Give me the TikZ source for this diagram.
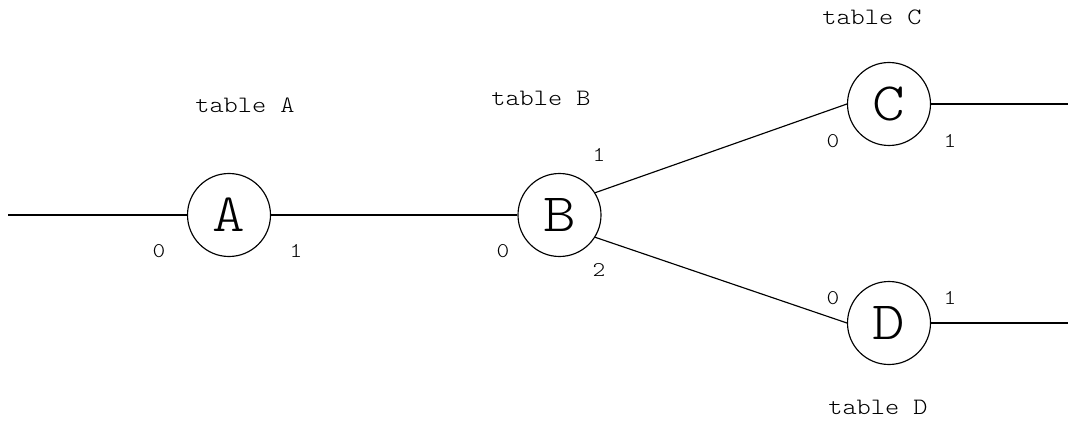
\documentclass[tikz,border=0pt]{standalone}
\usepackage{fontspec}
\newfontfamily\courlike[FakeStretch=1.15]{Latin Modern Mono Light}
\begin{document}
\begin{tikzpicture}[x=1pt,y=1pt,line width=1.15pt,
  tbl/.style={circle,draw,minimum size=83pt,inner sep=0pt,font=\courlike\fontsize{54}{54}\selectfont},
  lbl/.style={font=\courlike\fontsize{23.5}{24}\selectfont,inner sep=0pt},
  port/.style={font=\courlike\fontsize{21}{21}\selectfont,inner sep=0pt}]
\useasboundingbox (0,0) rectangle (1071,421);
\node[tbl] (A) at (229,206) {A};
\node[tbl] (B) at (559.5,206) {B};
\node[tbl] (C) at (889,317) {C};
\node[tbl] (D) at (889,98) {D};
\coordinate (inA) at (8,206);
\coordinate (outC) at (1068,317);
\coordinate (outD) at (1068,98);
\draw (inA) -- (A.west);
\draw (A.east) -- (B.west);
\draw (B.32) -- (C.west);
\draw (B.-32) -- (D.west);
\draw (C.east) -- (outC);
\draw (D.east) -- (outD);
\node[lbl] (la) at (245,316) {table A};
\node[lbl] (lb) at (541,323) {table B};
\node[lbl] (lc) at (872,404) {table C};
\node[lbl] (ld) at (878,14) {table D};
\node[port] (a0) at (159,170) {0};
\node[port] (a1) at (296,170) {1};
\node[port] (b0) at (503,170) {0};
\node[port] (b1) at (599,266) {1};
\node[port] (b2) at (599,151) {2};
\node[port] (c0) at (833,280) {0};
\node[port] (c1) at (950,280) {1};
\node[port] (d0) at (833,123) {0};
\node[port] (d1) at (950,123) {1};
\end{tikzpicture}
\end{document}
